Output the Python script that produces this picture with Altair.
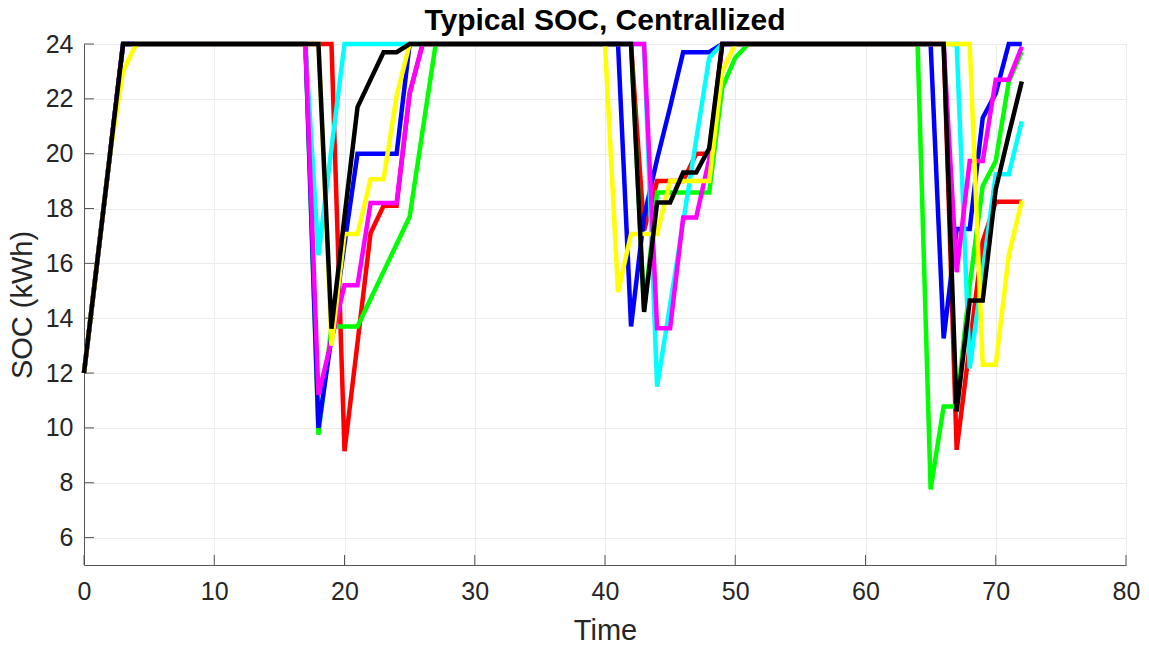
import altair as alt
import pandas as pd

T = list(range(0, 73))

def series(overrides, start=(12, 16, 20, 24)):
    vals = [24.0] * 73
    for i, v in enumerate(start):
        vals[i] = v
    for k, v in overrides.items():
        vals[k] = v
    return vals

red = series({20: 9.15, 21: 13.1, 22: 17.1, 23: 18.1, 24: 18.1, 25: 22.2,
              43: 17.2, 44: 19.0, 45: 19.0, 46: 19.0, 47: 20.0, 48: 20.0,
              67: 9.2, 68: 13.0, 69: 16.8, 70: 18.25, 71: 18.25, 72: 18.25})
green = series({18: 9.75, 19: 13.7, 20: 13.7, 21: 13.7, 22: 14.7, 23: 15.7, 24: 16.7,
                25: 17.7, 26: 20.85,
                43: 14.3, 44: 18.58, 45: 18.58, 46: 18.58, 47: 18.58, 48: 18.58,
                49: 22.4, 50: 23.5,
                65: 7.76, 66: 10.78, 67: 10.78, 68: 15.2, 69: 18.82, 70: 19.73,
                71: 22.63, 72: 23.72})
blue = series({18: 10.0, 19: 13.3, 20: 16.7, 21: 20.0, 22: 20.0, 23: 20.0, 24: 20.0,
               42: 13.7, 43: 17.7, 44: 19.8, 45: 21.7, 46: 23.7, 47: 23.7, 48: 23.7,
               66: 13.26, 67: 17.25, 68: 17.25, 69: 21.3, 70: 22.2})
cyan = series({18: 16.3, 19: 20.2,
               44: 11.5, 45: 14.5, 46: 17.5, 47: 20.5, 48: 23.5,
               68: 12.17, 69: 15.7, 70: 19.25, 71: 19.25, 72: 21.18})
magenta = series({18: 11.2, 19: 13.2, 20: 15.2, 21: 15.2, 22: 18.2, 23: 18.2, 24: 18.2,
                  25: 22.2,
                  44: 13.63, 45: 13.63, 46: 17.67, 47: 17.67, 48: 19.8,
                  67: 15.68, 68: 19.73, 69: 19.73, 70: 22.7, 71: 22.7, 72: 23.9})
yellow = series({3: 23.0, 19: 13.0, 20: 17.07, 21: 17.07, 22: 19.07, 23: 19.07, 24: 22.1,
                 41: 14.95, 42: 17.07, 43: 17.07, 44: 17.07, 45: 19.0, 46: 19.0,
                 47: 19.0, 48: 19.0, 49: 23.0,
                 69: 12.3, 70: 12.3, 71: 16.29, 72: 18.28})
black = series({19: 13.62, 20: 17.7, 21: 21.7, 22: 22.7, 23: 23.7, 24: 23.7,
                43: 14.23, 44: 18.22, 45: 18.22, 46: 19.31, 47: 19.31, 48: 20.2,
                67: 10.6, 68: 14.65, 69: 14.65, 70: 18.7, 71: 20.7, 72: 22.63})

names = ["red", "green", "blue", "cyan", "magenta", "yellow", "black"]
colors = ["#FF0000", "#00FF00", "#0000FF", "#00FFFF", "#FF00FF", "#FFFF00", "#000000"]
values = [red, green, blue, cyan, magenta, yellow, black]

x_ticks = list(range(0, 81, 10))
y_ticks = list(range(6, 25, 2))

W, H = 1042, 521
FONT = "Liberation Sans"

xscale = alt.Scale(domain=[0, 80], nice=False, zero=False)
yscale = alt.Scale(domain=[5, 24], nice=False, zero=False)

xaxis = alt.Axis(values=x_ticks, title="Time", grid=True, ticks=False,
                 labelPadding=14, titlePadding=12, labelFontSize=25, titleFontSize=29,
                 labelFont=FONT, titleFont=FONT, labelColor="#262626", titleColor="#262626",
                 titleFontWeight="normal", domainColor="#555555", gridColor="#ebebeb",
                 labelFlush=False)
yaxis = alt.Axis(values=y_ticks, title="SOC (kWh)", grid=True, ticks=False,
                 labelPadding=11, titlePadding=8, labelFontSize=25, titleFontSize=29,
                 labelFont=FONT, titleFont=FONT, labelColor="#262626", titleColor="#262626",
                 titleFontWeight="normal", domainColor="#555555", gridColor="#ebebeb",
                 labelFlush=False)

layers = []
# inward tick marks
ytick_df = pd.DataFrame({"v": y_ticks})
xtick_df = pd.DataFrame({"t": x_ticks})
layers.append(alt.Chart(ytick_df).mark_rule(color="#555555", strokeWidth=1).encode(
    y=alt.Y("v:Q", scale=yscale, axis=yaxis), x=alt.value(0), x2=alt.value(10)))
layers.append(alt.Chart(xtick_df).mark_rule(color="#555555", strokeWidth=1).encode(
    x=alt.X("t:Q", scale=xscale, axis=xaxis), y=alt.value(H), y2=alt.value(H - 10)))

for name, col, vals in zip(names, colors, values):
    df = pd.DataFrame({"t": T, "v": vals})
    layers.append(alt.Chart(df).mark_line(color=col, strokeWidth=4.5, clip=False,
                                          strokeJoin="miter").encode(
        x=alt.X("t:Q", scale=xscale, axis=xaxis),
        y=alt.Y("v:Q", scale=yscale, axis=yaxis)))

chart = alt.layer(*layers).properties(
    width=W, height=H,
    title=alt.TitleParams("Typical SOC, Centrallized", fontSize=30, fontWeight="bold",
                          font=FONT, color="#000000", anchor="middle", offset=0, dy=4),
    autosize=alt.AutoSizeParams(type="none"),
    padding={"left": 84, "top": 44, "right": 23, "bottom": 84},
).configure_view(stroke=None).configure(background="white")

chart.save("out.html", embed_options={"renderer": "svg", "actions": False})
